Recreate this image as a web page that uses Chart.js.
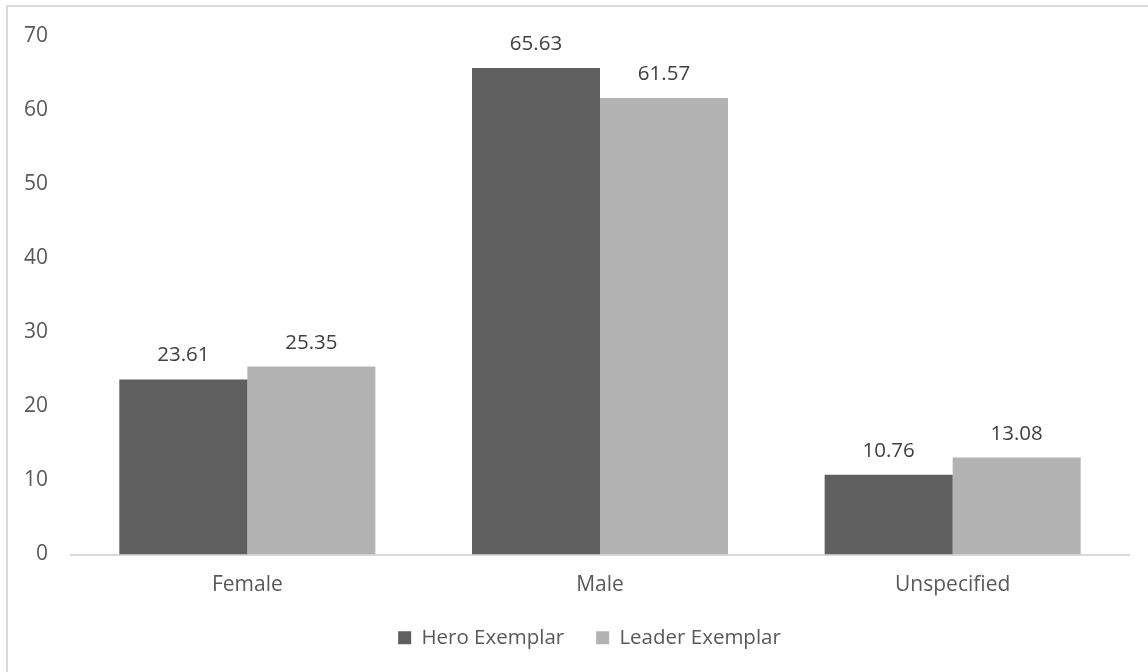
<!DOCTYPE html>
<html>
<head>
<meta charset="utf-8">
<script src="https://cdn.jsdelivr.net/npm/chart.js@4/dist/chart.umd.min.js"></script>
<style>
    html, body { margin: 0; padding: 0; background: #ffffff; }
    #wrap { width: 1148px; height: 672px; position: relative; }
</style>
</head>
<body>
<div id="wrap"><canvas id="barChart" width="1148" height="672"></canvas></div>
<script>
const categories = ['Female', 'Male', 'Unspecified'];
const heroValues = [23.61, 65.63, 10.76];
const leaderValues = [25.35, 61.57, 13.08];
const yTicks = [0, 10, 20, 30, 40, 50, 60, 70];

const fontFamily = '"Open Sans", "DejaVu Sans", sans-serif';

// light frame along the top and left edge of the chart
const framePlugin = {
    id: 'frame',
    beforeDraw: function(chart) {
        const ctx = chart.ctx;
        ctx.save();
        ctx.strokeStyle = '#d9d9d9';
        ctx.lineWidth = 2;
        ctx.beginPath();
        ctx.moveTo(7, chart.height);
        ctx.lineTo(7, 6);
        ctx.lineTo(chart.width, 6);
        ctx.stroke();
        ctx.restore();
    }
};

// centre the legend under the plot rather than the whole canvas
const legendShift = {
    id: 'legendShift',
    afterLayout: function(chart) {
        if (chart.legend) {
            chart.legend.left += 25;
            chart.legend.right += 25;
        }
    }
};

// value labels above each bar
const valueLabels = {
    id: 'valueLabels',
    afterDatasetsDraw: function(chart) {
        const ctx = chart.ctx;
        ctx.save();
        ctx.font = '20.5px ' + fontFamily;
        ctx.fillStyle = '#404040';
        ctx.textAlign = 'center';
        ctx.textBaseline = 'alphabetic';
        chart.data.datasets.forEach(function(ds, i) {
            chart.getDatasetMeta(i).data.forEach(function(bar, j) {
                ctx.fillText(ds.data[j].toFixed(2), bar.x, bar.y - 18);
            });
        });
        ctx.restore();
    }
};

new Chart(document.getElementById('barChart').getContext('2d'), {
    type: 'bar',
    data: {
        labels: categories,
        datasets: [
            {
                label: 'Hero Exemplar',
                data: heroValues,
                backgroundColor: '#5f5f5f',
                categoryPercentage: 0.726,
                barPercentage: 1
            },
            {
                label: 'Leader Exemplar',
                data: leaderValues,
                backgroundColor: '#b3b3b3',
                categoryPercentage: 0.726,
                barPercentage: 1
            }
        ]
    },
    options: {
        responsive: false,
        animation: false,
        layout: {
            padding: { top: 35, right: 19, bottom: 14, left: 0 }
        },
        plugins: {
            legend: {
                position: 'bottom',
                labels: {
                    boxWidth: 13,
                    boxHeight: 13,
                    padding: 32,
                    color: '#595959',
                    font: { family: fontFamily, size: 20.5 }
                }
            },
            tooltip: { enabled: false }
        },
        scales: {
            x: {
                grid: { display: false },
                border: { display: true, color: '#d9d9d9', width: 2 },
                ticks: {
                    color: '#595959',
                    padding: 10,
                    font: { family: fontFamily, size: 21 }
                },
                afterFit: function(scale) { scale.height = 41; }
            },
            y: {
                min: 0,
                max: 70,
                afterBuildTicks: function(scale) {
                    scale.ticks = yTicks.map(function(v) { return { value: v }; });
                },
                grid: { display: false, drawTicks: false },
                border: { display: false },
                ticks: {
                    color: '#595959',
                    padding: 23,
                    font: { family: fontFamily, size: 21 }
                },
                afterFit: function(scale) { scale.width = 71; }
            }
        }
    },
    plugins: [framePlugin, legendShift, valueLabels]
});
</script>
</body>
</html>
